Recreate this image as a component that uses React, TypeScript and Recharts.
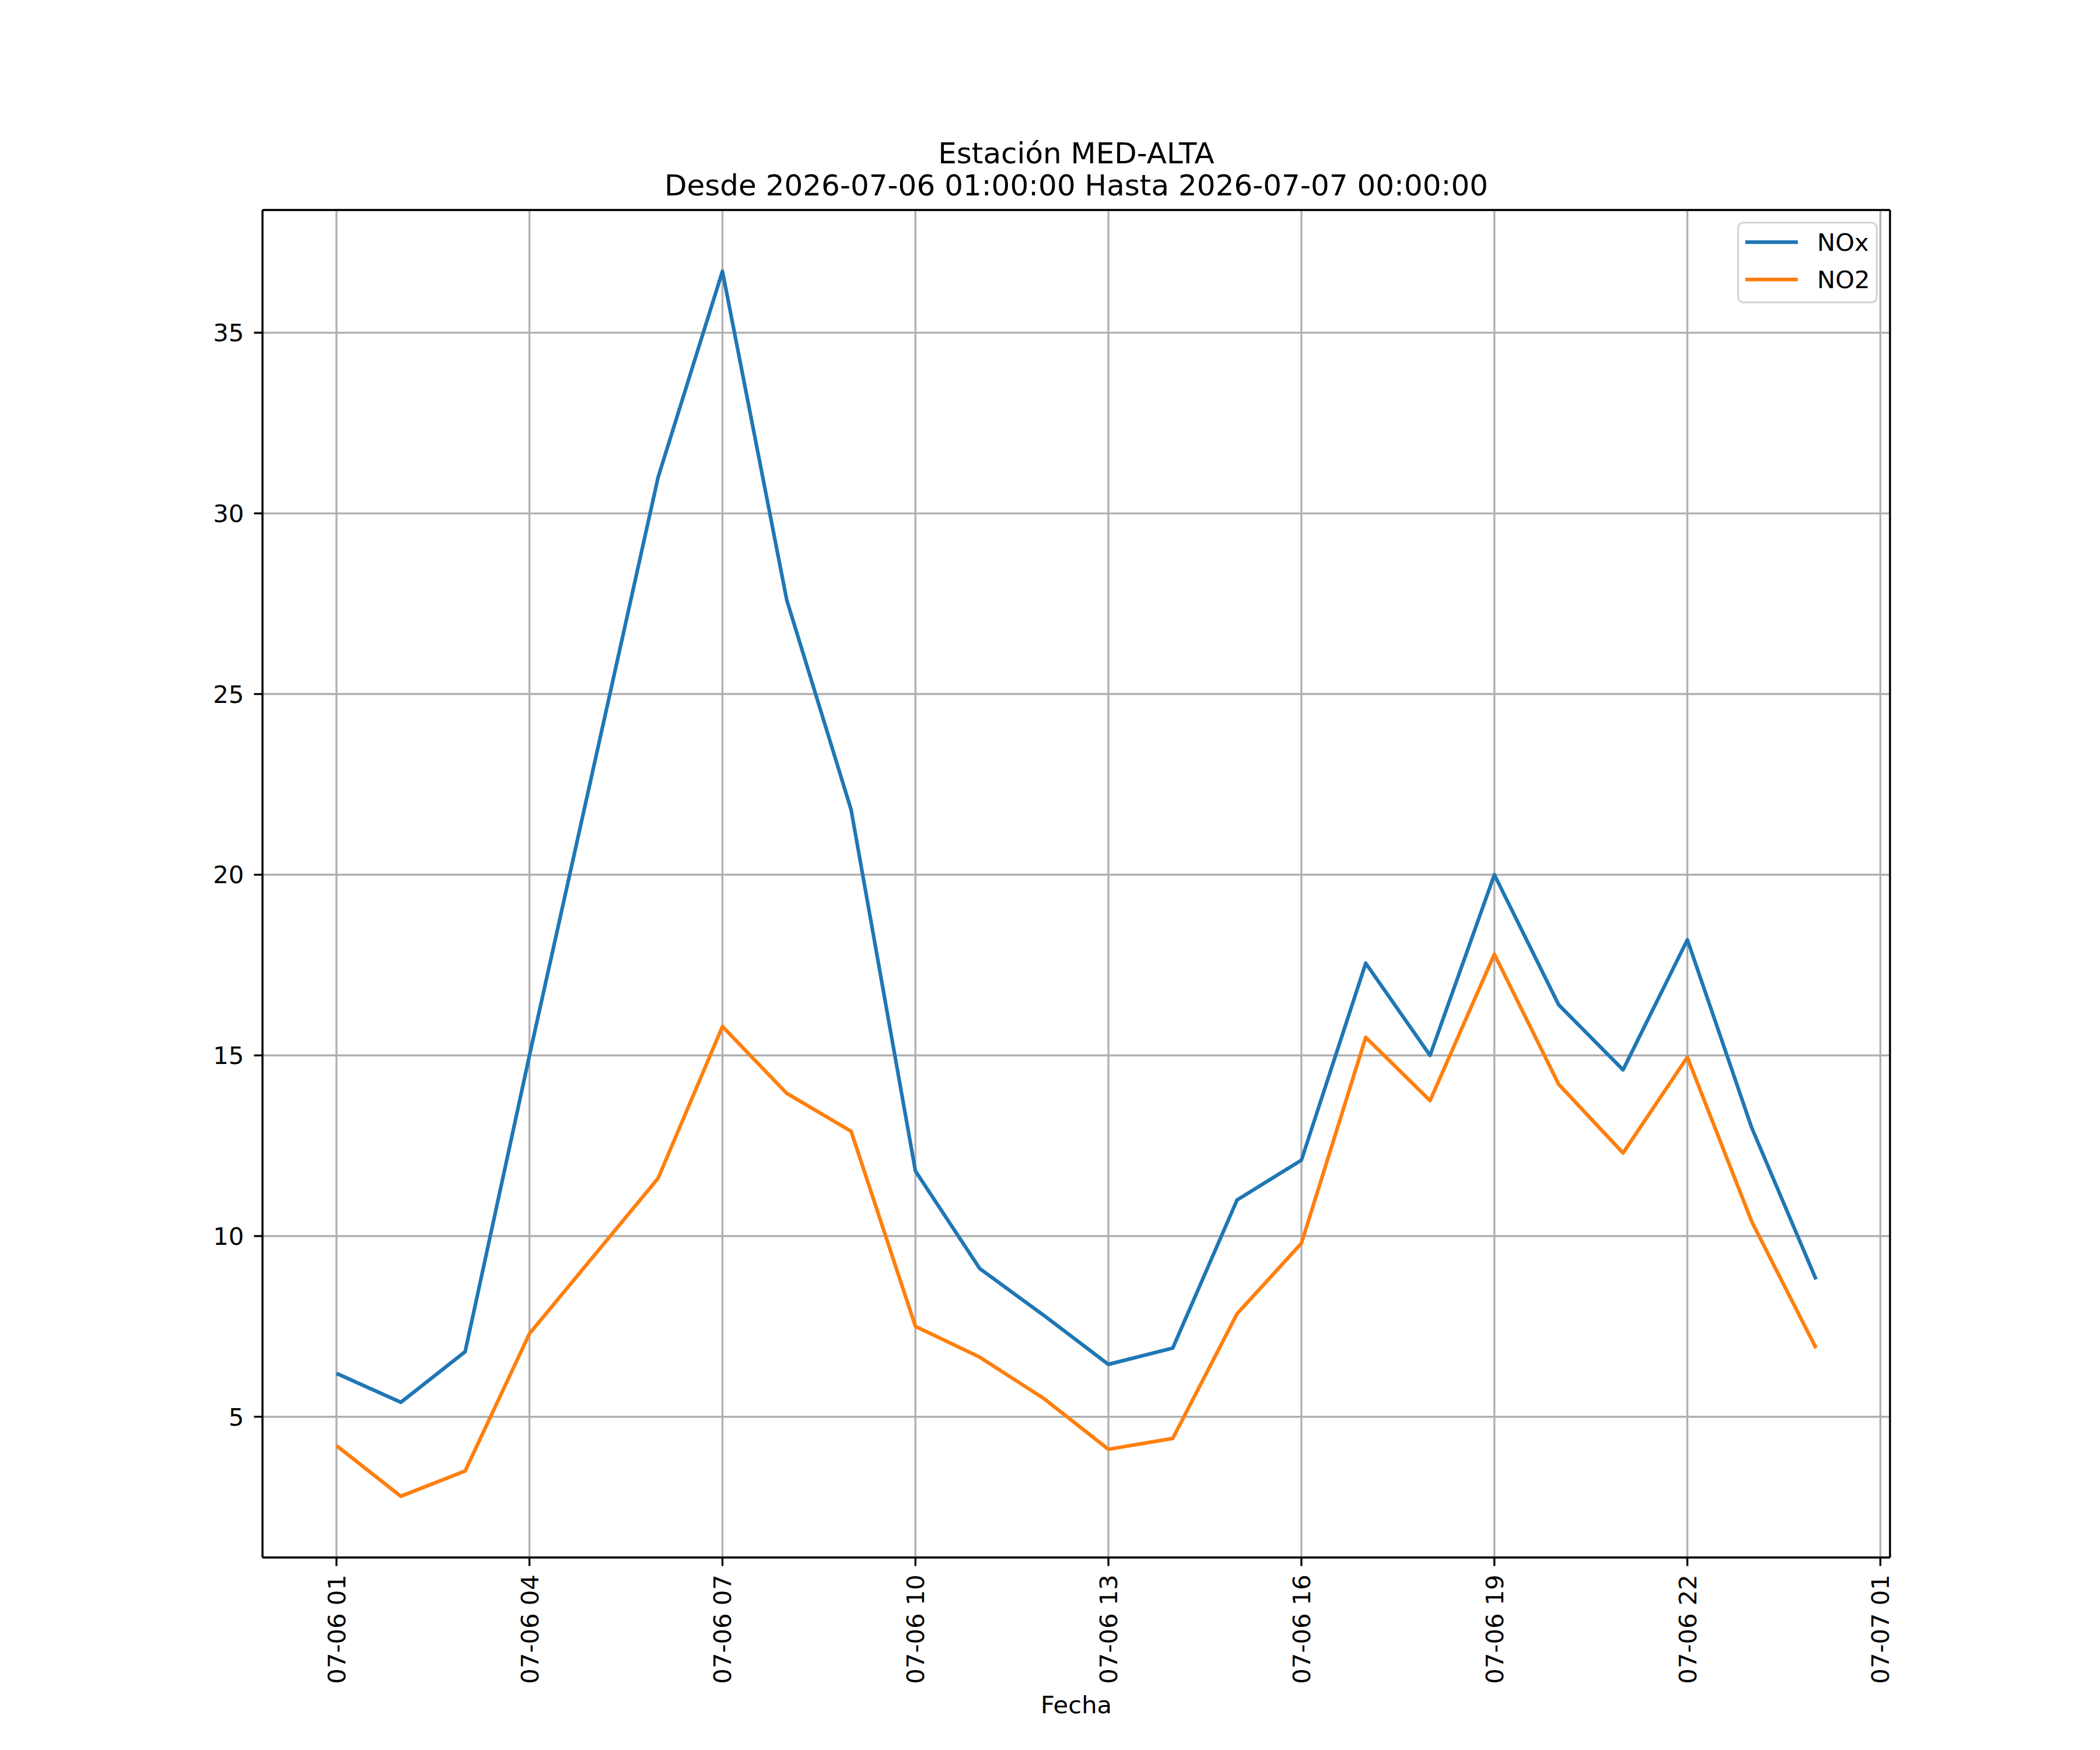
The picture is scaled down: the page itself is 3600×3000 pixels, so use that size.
import React from 'react';
import { LineChart, Line, XAxis, YAxis, CartesianGrid, Legend, ReferenceLine } from 'recharts';

// hourly values, 07-06 01:00 .. 07-07 00:00
const hours = [1, 2, 3, 4, 5, 6, 7, 8, 9, 10, 11, 12, 13, 14, 15, 16, 17, 18, 19, 20, 21, 22, 23, 24];
const noxValues = [6.2, 5.4, 6.8, 15.0, 23.0, 31.0, 36.7, 27.6, 21.8, 11.8, 9.1, 7.8, 6.45, 6.9, 11.0, 12.1, 17.55, 15.0, 20.0, 16.4, 14.6, 18.2, 13.0, 8.8];
const no2Values = [4.2, 2.8, 3.5, 7.3, 9.45, 11.6, 15.8, 13.95, 12.9, 7.5, 6.65, 5.5, 4.1, 4.4, 7.85, 9.8, 15.5, 13.75, 17.8, 14.2, 12.3, 14.95, 10.4, 6.9];

const seriesNames = ['NOx', 'NO2'];
const seriesColors = ['#1f77b4', '#ff7f0e'];

const xTickHours = [1, 4, 7, 10, 13, 16, 19, 22, 25];
const xTickLabels = ['07-06 01', '07-06 04', '07-06 07', '07-06 10', '07-06 13', '07-06 16', '07-06 19', '07-06 22', '07-07 01'];
const yTicks = [5, 10, 15, 20, 25, 30, 35];

const titleLines = ['Estación MED-ALTA', 'Desde 2026-07-06 01:00:00 Hasta 2026-07-07 00:00:00'];
const xLabel = 'Fecha';

const FONT = '"DejaVu Sans", sans-serif';
const FS = 41.7;
const LW = 3.33;

// matplotlib-style 5% margins
const allY = [...noxValues, ...no2Values];
const yLo = Math.min(...allY);
const yHi = Math.max(...allY);
const yMin = yLo - 0.05 * (yHi - yLo);
const yMax = yHi + 0.05 * (yHi - yLo);
const xLo = hours[0];
const xHi = hours[hours.length - 1];
const xMin = xLo - 0.05 * (xHi - xLo);
const xMax = xHi + 0.05 * (xHi - xLo);

const data = hours.map((h, i) => ({ h, NOx: noxValues[i], NO2: no2Values[i] }));

const XTick = (props: any) => {
  const { x, y, payload } = props;
  const label = xTickLabels[xTickHours.indexOf(payload.value)];
  return (
    <text
      x={x}
      y={y}
      transform={`rotate(-90 ${x} ${y})`}
      textAnchor="end"
      dy="0.36em"
      fontSize={FS}
      fontFamily={FONT}
      fill="#000"
    >
      {label}
    </text>
  );
};

const renderLegend = (props: any) => {
  // keep the plotting order, not alphabetical
  const items = [...(props.payload || [])].sort(
    (a: any, b: any) => seriesNames.indexOf(a.value) - seriesNames.indexOf(b.value)
  );
  return (
    <svg width={241} height={140} style={{ display: 'block' }}>
      <rect
        x={1.7}
        y={1.7}
        width={237.6}
        height={136.6}
        rx={9}
        fill="#fff"
        fillOpacity={0.8}
        stroke="#cccccc"
        strokeOpacity={0.8}
        strokeWidth={LW}
      />
      {items.map((it: any, i: number) => (
        <g key={it.value}>
          <line x1={14} x2={104} y1={35 + 64 * i} y2={35 + 64 * i} stroke={it.color} strokeWidth={6.25} />
          <text x={137} y={35 + 64 * i} dy="0.36em" fontSize={FS} fontFamily={FONT} fill="#000">
            {it.value}
          </text>
        </g>
      ))}
    </svg>
  );
};

export default function App() {
  return (
    <div style={{ position: 'relative', width: 3600, height: 3000, background: '#fff' }}>
      <style>{'body{margin:0;background:#fff}'}</style>
      <LineChart
        width={3600}
        height={3000}
        data={data}
        margin={{ top: 360, right: 360, left: 350, bottom: 30 }}
      >
        <CartesianGrid stroke="#b0b0b0" strokeWidth={LW} />
        <XAxis
          type="number"
          dataKey="h"
          domain={[xMin, xMax]}
          allowDataOverflow
          ticks={xTickHours}
          interval={0}
          height={300}
          tickSize={14.6}
          tickMargin={14.6}
          tick={<XTick />}
          tickLine={{ stroke: '#000', strokeWidth: LW }}
          axisLine={{ stroke: '#000', strokeWidth: LW }}
        />
        <YAxis
          type="number"
          domain={[yMin, yMax]}
          allowDataOverflow
          ticks={yTicks}
          interval={0}
          width={100}
          tickSize={14.6}
          tickMargin={17}
          tick={{ fill: '#000', fontSize: FS, fontFamily: FONT }}
          tickLine={{ stroke: '#000', strokeWidth: LW }}
          axisLine={{ stroke: '#000', strokeWidth: LW }}
        />
        <ReferenceLine y={yMax} stroke="#000" strokeWidth={LW} ifOverflow="visible" />
        <ReferenceLine x={xMax} stroke="#000" strokeWidth={LW} ifOverflow="visible" />
        {seriesNames.map((name, i) => (
          <Line
            key={name}
            type="linear"
            dataKey={name}
            name={name}
            stroke={seriesColors[i]}
            strokeWidth={6.25}
            strokeLinejoin="round"
            dot={false}
            activeDot={false}
            isAnimationActive={false}
          />
        ))}
        <Legend
          layout="horizontal"
          verticalAlign="middle"
          align="center"
          wrapperStyle={{ left: 2978, top: 380, width: 241, height: 140 }}
          content={renderLegend}
        />
      </LineChart>
      <svg
        width={3600}
        height={3000}
        style={{ position: 'absolute', left: 0, top: 0, pointerEvents: 'none' }}
      >
        <text x={1845} y={280} textAnchor="middle" fontSize={50} fontFamily={FONT} fill="#000">
          {titleLines[0]}
        </text>
        <text x={1845} y={335} textAnchor="middle" fontSize={50} fontFamily={FONT} fill="#000">
          {titleLines[1]}
        </text>
        <text x={1845} y={2937} textAnchor="middle" fontSize={FS} fontFamily={FONT} fill="#000">
          {xLabel}
        </text>
      </svg>
    </div>
  );
}
